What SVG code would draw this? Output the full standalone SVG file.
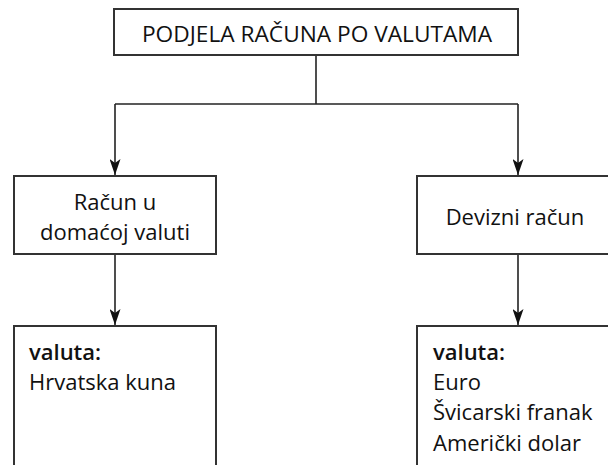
<svg xmlns="http://www.w3.org/2000/svg" width="608" height="465" viewBox="0 0 608 465">
<style>
.box{fill:#fff;stroke:#333;stroke-width:2}
.ln{fill:none;stroke:#222;stroke-width:1.6}
text{font-family:"Open Sans","Noto Sans","Liberation Sans",sans-serif;font-size:22px;fill:#111}
.c{text-anchor:middle}
.h{font-size:22.7px}
.b{font-weight:600}
</style>
<defs>
<marker id="arr" markerWidth="16" markerHeight="11" refX="16" refY="5.5" orient="auto" markerUnits="userSpaceOnUse" viewBox="0 0 16 11">
<path d="M0,0 L16,5.5 L0,11 L4,5.5 Z" fill="#111"/>
</marker>
</defs>
<g id="connectors">
<line class="ln" x1="316" y1="55" x2="316" y2="104"/>
<polyline class="ln" points="115,104 518,104"/>
<line class="ln" x1="115" y1="104" x2="115" y2="175" marker-end="url(#arr)"/>
<line class="ln" x1="518" y1="104" x2="518" y2="175" marker-end="url(#arr)"/>
<line class="ln" x1="115" y1="254" x2="115" y2="325" marker-end="url(#arr)"/>
<line class="ln" x1="518" y1="254" x2="518" y2="325" marker-end="url(#arr)"/>
</g>
<g id="top">
<rect class="box" x="114" y="9" width="404" height="46"/>
<text class="c h" x="317" y="42">PODJELA RAČUNA PO VALUTAMA</text>
</g>
<g id="domestic">
<rect class="box" x="14" y="176" width="202" height="78"/>
<text class="c" x="115" y="210">Račun u</text>
<text class="c" x="115" y="240">domaćoj valuti</text>
</g>
<g id="foreign">
<rect class="box" x="417" y="176" width="210" height="78"/>
<text class="c" x="515" y="225">Devizni račun</text>
</g>
<g id="domestic-currency">
<path class="box" d="M14,470 L14,326 L216,326 L216,470"/>
<text class="b" x="29" y="360">valuta:</text>
<text x="29" y="390">Hrvatska kuna</text>
</g>
<g id="foreign-currency">
<path class="box" d="M417,470 L417,326 L627,326 L627,470"/>
<text class="b" x="433" y="360">valuta:</text>
<text x="433" y="390">Euro</text>
<text x="433" y="420">Švicarski franak</text>
<text x="433" y="451">Američki dolar</text>
</g>
</svg>
